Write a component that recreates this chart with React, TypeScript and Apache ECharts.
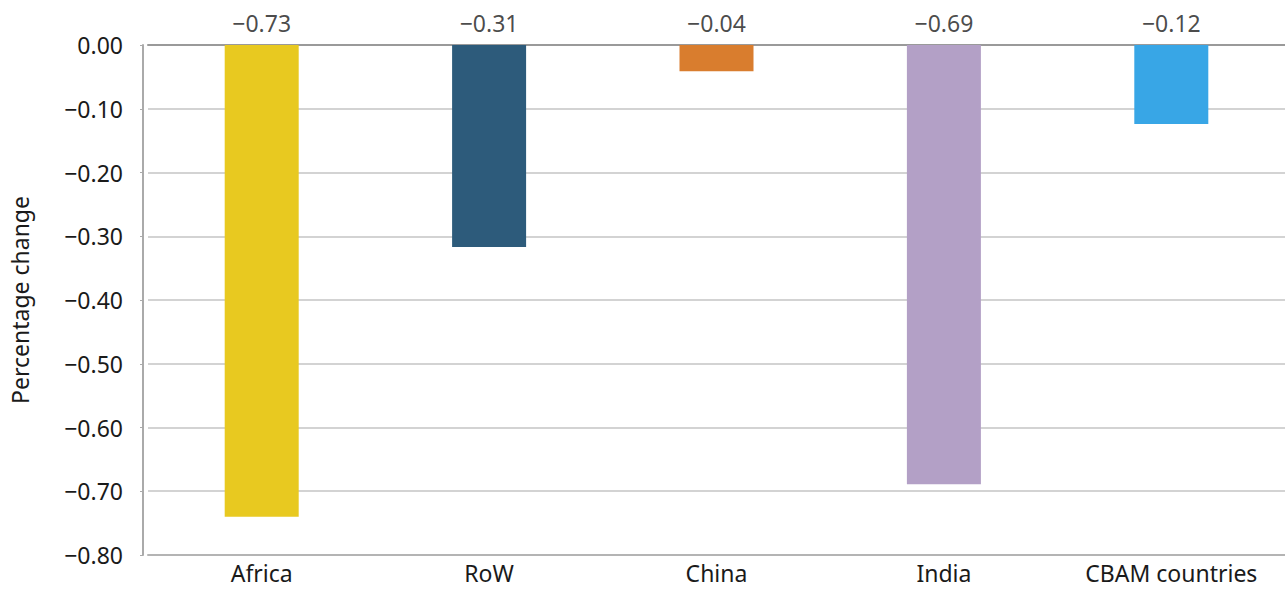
import React, { useEffect, useRef } from "react";
import * as echarts from "echarts";

const categories = ["Africa", "RoW", "China", "India", "CBAM countries"];
const values = [-0.74, -0.317, -0.041, -0.689, -0.124];
const valueLabels = ["\u22120.73", "\u22120.31", "\u22120.04", "\u22120.69", "\u22120.12"];
const colors = ["#E8C920", "#2D5B7B", "#D97D2E", "#B3A0C6", "#38A6E6"];
const yTicks = { min: -0.8, max: 0, interval: 0.1 };
const yName = "Percentage change";

const FONT = "'Noto Sans', sans-serif";
const FS = 23;

export default function App() {
  const ref = useRef<HTMLDivElement>(null);
  useEffect(() => {
    document.body.style.margin = "0";
    if (!ref.current) return;
    const chart = echarts.init(ref.current, null, { renderer: "svg" });
    chart.setOption({
      animation: false,
      textStyle: { fontFamily: FONT },
      grid: { left: 148, right: -4, top: 45, bottom: 35, containLabel: false },
      xAxis: [
        {
          type: "category",
          data: categories,
          position: "bottom",
          axisLine: { onZero: false, lineStyle: { color: "#b4b4b4", width: 2 } },
          axisTick: { show: false },
          axisLabel: { color: "#1a1a1a", fontSize: FS, lineHeight: 24, fontFamily: FONT, margin: 6 },
        },
        {
          type: "category",
          data: categories,
          position: "top",
          axisLine: { show: true, lineStyle: { color: "#9a9a9a", width: 2 } },
          axisTick: { show: false },
          axisLabel: { show: false },
        },
      ],
      yAxis: {
        type: "value",
        min: yTicks.min,
        max: yTicks.max,
        interval: yTicks.interval,
        offset: 5,
        name: yName,
        nameLocation: "middle",
        nameGap: 112,
        nameTextStyle: { color: "#1a1a1a", fontSize: FS, fontFamily: FONT },
        axisLine: { show: true, onZero: false, lineStyle: { color: "#aaaaaa", width: 2 } },
        axisTick: { show: true, length: 3, lineStyle: { color: "#aaaaaa" } },
        splitLine: { show: true, lineStyle: { color: "#c4c4c4", width: 1.5 } },
        axisLabel: {
          color: "#1a1a1a",
          fontSize: FS,
          fontFamily: FONT,
          margin: 20,
          formatter: (v: number) => (Math.abs(v) < 1e-9 ? "0.00" : v.toFixed(2).replace("-", "\u2212")),
        },
      },
      series: [
        {
          type: "bar",
          data: values.map((v, i) => ({ value: v, itemStyle: { color: colors[i] } })),
          barWidth: 74,
          xAxisIndex: 0,
        },
        {
          type: "scatter",
          data: values.map(() => 0),
          symbolSize: 0,
          xAxisIndex: 0,
          silent: true,
          label: {
            show: true,
            position: "top",
            distance: 11,
            color: "#1a1a1a",
            fontSize: FS,
            fontFamily: FONT,
            formatter: (p: any) => valueLabels[p.dataIndex],
          },
        },
      ],
    });
    return () => chart.dispose();
  }, []);
  return <div ref={ref} style={{ width: 1285, height: 590 }} />;
}
